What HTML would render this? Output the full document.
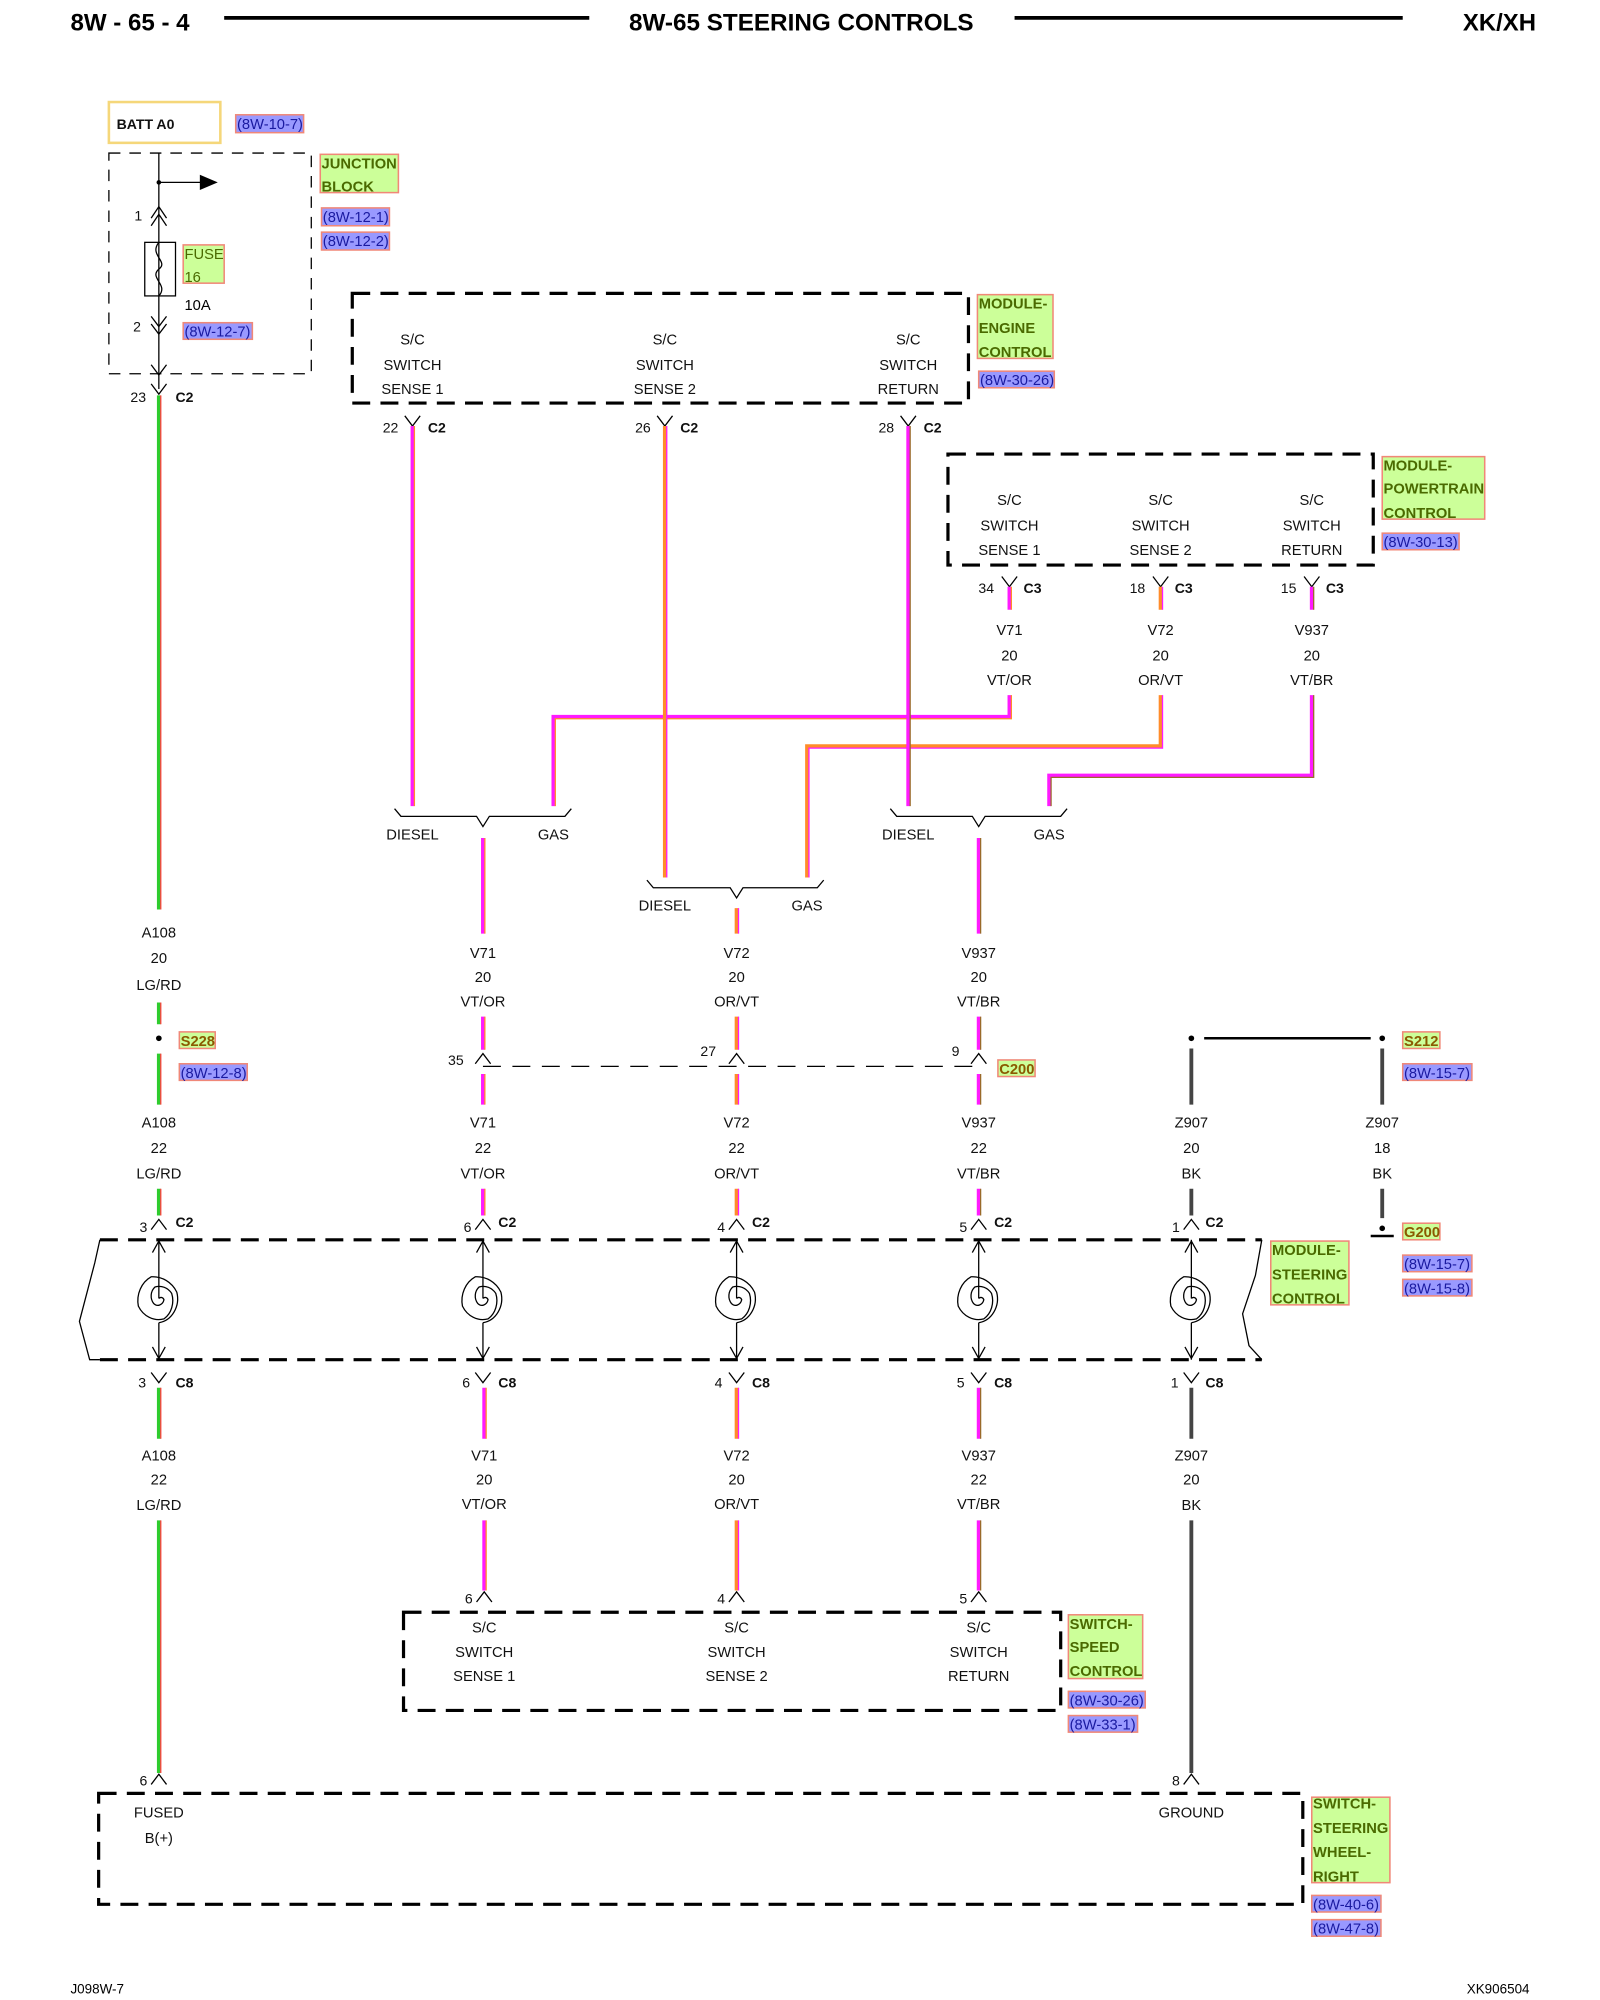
<!DOCTYPE html>
<html><head><meta charset="utf-8"><style>
html,body{margin:0;padding:0;background:#fff;}
svg{display:block;}
text{font-family:"Liberation Sans",sans-serif;}
.t{font-size:11.5px;fill:#111;text-anchor:middle;}
.n{font-size:11px;fill:#111;text-anchor:end;}
.b{font-size:11px;font-weight:bold;fill:#111;}
.lab{font-size:11.5px;font-weight:bold;fill:#4a6a00;}
.ref{font-size:11.5px;fill:#1a1aa0;}
.gb{fill:#ccff99;stroke:#f08878;stroke-width:1.2;}
.rb{fill:#9999ff;stroke:#f08878;stroke-width:1.2;}
.dash{fill:none;stroke:#000;stroke-width:2.5;stroke-dasharray:14,8;}
.thin{fill:none;stroke:#000;stroke-width:1;}
.thd{fill:none;stroke:#000;stroke-width:1;stroke-dasharray:9,7;}
</style></head><body>
<svg width="1600" height="2000" viewBox="0 0 1249 1568" preserveAspectRatio="none" xmlns="http://www.w3.org/2000/svg">
<!-- header -->
<text x="55" y="24" style="font-size:18.5px;font-weight:bold" textLength="93" lengthAdjust="spacingAndGlyphs">8W - 65 - 4</text>
<line x1="175" y1="14" x2="460" y2="14" stroke="#000" stroke-width="3"/>
<text x="491" y="24" style="font-size:18.5px;font-weight:bold" textLength="269" lengthAdjust="spacingAndGlyphs">8W-65 STEERING CONTROLS</text>
<line x1="792" y1="14" x2="1095" y2="14" stroke="#000" stroke-width="3"/>
<text x="1142" y="24" style="font-size:18.5px;font-weight:bold" textLength="57" lengthAdjust="spacingAndGlyphs">XK/XH</text>

<!-- BATT -->
<rect x="85" y="80" width="87" height="32" fill="none" stroke="#f5d77a" stroke-width="2"/>
<text x="91" y="101" class="b">BATT A0</text>
<rect x="184" y="90" width="53" height="14" class="rb"/><text x="185" y="101" class="ref">(8W-10-7)</text>

<!-- junction block -->
<rect x="85" y="120" width="158" height="173" class="thd"/>
<rect x="250" y="121" width="61" height="30" class="gb"/>
<text x="251" y="132" class="lab">JUNCTION</text><text x="251" y="150" class="lab">BLOCK</text>
<rect x="251" y="163" width="53" height="14" class="rb"/><text x="252" y="174" class="ref">(8W-12-1)</text>
<rect x="251" y="182" width="53" height="14" class="rb"/><text x="252" y="193" class="ref">(8W-12-2)</text>
<line x1="124" y1="120" x2="124" y2="305" stroke="#000" stroke-width="1"/>
<circle cx="124" cy="143" r="1.8" fill="#000"/>
<line x1="124" y1="143" x2="158" y2="143" stroke="#000"/>
<polygon points="156,137 170,143 156,149" fill="#000"/>
<polyline points="118,171 124,162 130,171" class="thin"/><polyline points="118,177 124,168 130,177" class="thin"/>
<text x="111" y="173" class="n">1</text>
<rect x="113" y="190" width="24" height="42" class="thin"/>
<path d="M124,190 C116,200 132,205 124,211 C116,218 132,223 124,232" class="thin"/>
<rect x="143" y="192" width="32" height="30" class="gb"/>
<text x="144" y="203" class="lab" style="font-weight:normal">FUSE</text><text x="144" y="221" class="lab" style="font-weight:normal">16</text>
<text x="144" y="243" style="font-size:11.5px">10A</text>
<polyline points="118,248 124,256 130,248" class="thin"/><polyline points="118,254 124,262 130,254" class="thin"/>
<text x="110" y="260" class="n">2</text>
<rect x="143" y="253" width="54" height="13" class="rb"/><text x="144" y="264" class="ref">(8W-12-7)</text>
<polyline points="118,286 124,294 130,286" class="thin"/>
<polyline points="118,301 124,309 130,301" class="thin"/>
<text x="114" y="315" class="n">23</text><text x="137" y="315" class="b">C2</text>

<!-- engine control -->
<rect x="275" y="230" width="481" height="86" class="dash"/>
<text x="322" y="270" class="t">S/C</text><text x="322" y="290" class="t">SWITCH</text><text x="322" y="309" class="t">SENSE 1</text>
<text x="519" y="270" class="t">S/C</text><text x="519" y="290" class="t">SWITCH</text><text x="519" y="309" class="t">SENSE 2</text>
<text x="709" y="270" class="t">S/C</text><text x="709" y="290" class="t">SWITCH</text><text x="709" y="309" class="t">RETURN</text>
<rect x="763" y="231" width="59" height="50" class="gb"/>
<text x="764" y="242" class="lab">MODULE-</text><text x="764" y="261" class="lab">ENGINE</text><text x="764" y="280" class="lab">CONTROL</text>
<rect x="764" y="291" width="59" height="13" class="rb"/><text x="765" y="302" class="ref">(8W-30-26)</text>
<polyline points="316,326 322,334 328,326" class="thin"/><text x="311" y="339" class="n">22</text><text x="334" y="339" class="b">C2</text>
<polyline points="513,326 519,334 525,326" class="thin"/><text x="508" y="339" class="n">26</text><text x="531" y="339" class="b">C2</text>
<polyline points="703,326 709,334 715,326" class="thin"/><text x="698" y="339" class="n">28</text><text x="721" y="339" class="b">C2</text>

<!-- PCM -->
<rect x="740" y="356" width="332" height="87" class="dash"/>
<text x="788" y="396" class="t">S/C</text><text x="788" y="416" class="t">SWITCH</text><text x="788" y="435" class="t">SENSE 1</text>
<text x="906" y="396" class="t">S/C</text><text x="906" y="416" class="t">SWITCH</text><text x="906" y="435" class="t">SENSE 2</text>
<text x="1024" y="396" class="t">S/C</text><text x="1024" y="416" class="t">SWITCH</text><text x="1024" y="435" class="t">RETURN</text>
<rect x="1079" y="358" width="80" height="49" class="gb"/>
<text x="1080" y="369" class="lab">MODULE-</text><text x="1080" y="387" class="lab">POWERTRAIN</text><text x="1080" y="406" class="lab">CONTROL</text>
<rect x="1079" y="418" width="60" height="13" class="rb"/><text x="1080" y="429" class="ref">(8W-30-13)</text>
<polyline points="782,452 788,460 794,452" class="thin"/><text x="776" y="465" class="n">34</text><text x="799" y="465" class="b">C3</text>
<polyline points="900,452 906,460 912,452" class="thin"/><text x="894" y="465" class="n">18</text><text x="917" y="465" class="b">C3</text>
<polyline points="1018,452 1024,460 1030,452" class="thin"/><text x="1012" y="465" class="n">15</text><text x="1035" y="465" class="b">C3</text>
<text x="788" y="498" class="t">V71</text><text x="788" y="518" class="t">20</text><text x="788" y="537" class="t">VT/OR</text>
<text x="906" y="498" class="t">V72</text><text x="906" y="518" class="t">20</text><text x="906" y="537" class="t">OR/VT</text>
<text x="1024" y="498" class="t">V937</text><text x="1024" y="518" class="t">20</text><text x="1024" y="537" class="t">VT/BR</text>

<!-- WIRES -->
<g fill="none" stroke-linejoin="miter">
<g stroke="#2ecc2e" stroke-width="3">
<path d="M124,310V713M124,786V803M124,826V866M124,932V953M124,1088V1128M124,1192V1390"/></g>
<g stroke="#ff4040" stroke-width="1">
<path d="M125.5,310V713M125.5,786V803M125.5,826V866M125.5,932V953M125.5,1088V1128M125.5,1192V1390"/></g>
<g stroke="#ff1aff" stroke-width="3">
<path d="M322,334V632M788,460V478M788,545V562H432V632M377,657V732M377,797V823M377,842V866M377,932V953M378,1088V1128M378,1192V1247"/></g>
<g stroke="#ff8c2a" stroke-width="1">
<path d="M323.5,334V632M789.5,460V478M789.5,545V563.5H433.5V632M378.5,657V732M378.5,797V823M378.5,842V866M378.5,932V953M379.5,1088V1128M379.5,1192V1247"/></g>
<g stroke="#ff8c2a" stroke-width="3">
<path d="M519,334V688M906,460V478M906,545V585H630V688M575,712V732M575,797V823M575,842V866M575,932V953M575,1088V1128M575,1192V1247"/></g>
<g stroke="#ff1aff" stroke-width="1">
<path d="M520.5,334V688M907.5,460V478M907.5,545V586.5H631.5V688M576.5,712V732M576.5,797V823M576.5,842V866M576.5,932V953M576.5,1088V1128M576.5,1192V1247"/></g>
<g stroke="#ff1aff" stroke-width="3">
<path d="M709,334V632M1024,460V478M1024,545V608H819V632M764,657V732M764,797V823M764,842V866M764,932V953M764,1088V1128M764,1192V1247"/></g>
<g stroke="#9a6a2a" stroke-width="1">
<path d="M710.5,334V632M1025.5,460V478M1025.5,545V609.5H820.5V632M765.5,657V732M765.5,797V823M765.5,842V866M765.5,932V953M765.5,1088V1128M765.5,1192V1247"/></g>
<g stroke="#444" stroke-width="3">
<path d="M930,822V866M930,932V953M930,1088V1128M930,1192V1390M1079,822V866M1079,932V955"/></g>
</g>

<!-- diesel/gas brackets -->
<path d="M308,634 L313,640 H372 L377,648 L382,640 H441 L446,634" class="thin"/>
<text x="322" y="658" class="t">DIESEL</text><text x="432" y="658" class="t">GAS</text>
<path d="M505,690 L510,696 H570 L575,704 L580,696 H638 L643,690" class="thin"/>
<text x="519" y="714" class="t">DIESEL</text><text x="630" y="714" class="t">GAS</text>
<path d="M695,634 L700,640 H759 L764,648 L769,640 H828 L833,634" class="thin"/>
<text x="709" y="658" class="t">DIESEL</text><text x="819" y="658" class="t">GAS</text>

<text x="124" y="735" class="t">A108</text><text x="124" y="755" class="t">20</text><text x="124" y="776" class="t">LG/RD</text>
<text x="377" y="751" class="t">V71</text><text x="377" y="770" class="t">20</text><text x="377" y="789" class="t">VT/OR</text>
<text x="575" y="751" class="t">V72</text><text x="575" y="770" class="t">20</text><text x="575" y="789" class="t">OR/VT</text>
<text x="764" y="751" class="t">V937</text><text x="764" y="770" class="t">20</text><text x="764" y="789" class="t">VT/BR</text>

<circle cx="124" cy="814" r="2.2" fill="#000"/>
<rect x="140" y="809" width="28" height="13" class="gb"/><text x="141" y="820" class="lab" style="fill:#8a5a00">S228</text>
<rect x="140" y="834" width="53" height="13" class="rb"/><text x="141" y="845" class="ref">(8W-12-8)</text>

<line x1="377" y1="836" x2="764" y2="836" stroke="#000" stroke-dasharray="14,9"/>
<polyline points="371,834 377,826 383,834" class="thin"/><text x="362" y="835" class="n">35</text>
<polyline points="569,834 575,826 581,834" class="thin"/><text x="559" y="828" class="n">27</text>
<polyline points="758,834 764,826 770,834" class="thin"/><text x="749" y="828" class="n">9</text>
<rect x="779" y="831" width="29" height="13" class="gb"/><text x="780" y="842" class="lab" style="fill:#8a5a00">C200</text>

<circle cx="930" cy="814" r="2.2" fill="#000"/><circle cx="1079" cy="814" r="2.2" fill="#000"/>
<line x1="940" y1="814" x2="1070" y2="814" stroke="#000" stroke-width="2"/>
<rect x="1095" y="809" width="29" height="13" class="gb"/><text x="1096" y="820" class="lab" style="fill:#8a5a00">S212</text>
<rect x="1095" y="834" width="54" height="13" class="rb"/><text x="1096" y="845" class="ref">(8W-15-7)</text>

<text x="124" y="884" class="t">A108</text><text x="124" y="904" class="t">22</text><text x="124" y="924" class="t">LG/RD</text>
<text x="377" y="884" class="t">V71</text><text x="377" y="904" class="t">22</text><text x="377" y="924" class="t">VT/OR</text>
<text x="575" y="884" class="t">V72</text><text x="575" y="904" class="t">22</text><text x="575" y="924" class="t">OR/VT</text>
<text x="764" y="884" class="t">V937</text><text x="764" y="904" class="t">22</text><text x="764" y="924" class="t">VT/BR</text>
<text x="930" y="884" class="t">Z907</text><text x="930" y="904" class="t">20</text><text x="930" y="924" class="t">BK</text>
<text x="1079" y="884" class="t">Z907</text><text x="1079" y="904" class="t">18</text><text x="1079" y="924" class="t">BK</text>

<circle cx="1079" cy="963" r="2.2" fill="#000"/>
<line x1="1070" y1="969" x2="1088" y2="969" stroke="#000" stroke-width="2"/>
<rect x="1095" y="959" width="29" height="13" class="gb"/><text x="1096" y="970" class="lab" style="fill:#8a5a00">G200</text>
<rect x="1095" y="984" width="54" height="13" class="rb"/><text x="1096" y="995" class="ref">(8W-15-7)</text>
<rect x="1095" y="1003" width="54" height="13" class="rb"/><text x="1096" y="1014" class="ref">(8W-15-8)</text>

<polyline points="118,964 124,956 130,964" class="thin"/><text x="115" y="966" class="n">3</text><text x="137" y="962" class="b">C2</text>
<polyline points="371,964 377,956 383,964" class="thin"/><text x="368" y="966" class="n">6</text><text x="389" y="962" class="b">C2</text>
<polyline points="569,964 575,956 581,964" class="thin"/><text x="566" y="966" class="n">4</text><text x="587" y="962" class="b">C2</text>
<polyline points="758,964 764,956 770,964" class="thin"/><text x="755" y="966" class="n">5</text><text x="776" y="962" class="b">C2</text>
<polyline points="924,964 930,956 936,964" class="thin"/><text x="921" y="966" class="n">1</text><text x="941" y="962" class="b">C2</text>

<!-- steering module -->
<path d="M78,972 H985 M78,1066 H985" class="dash"/>
<path d="M78,972 L74,990 L62,1036 L70,1066 H78" class="thin"/>
<path d="M985,972 L980,1000 L970,1030 L975,1055 L985,1066" class="thin"/>
<rect x="992" y="973" width="61" height="50" class="gb"/>
<text x="993" y="984" class="lab">MODULE-</text><text x="993" y="1003" class="lab">STEERING</text><text x="993" y="1022" class="lab">CONTROL</text>

<g fill="none" stroke="#000" stroke-width="1">
<g id="cs">
<line x1="124" y1="972" x2="124" y2="1018"/>
<line x1="124" y1="1037" x2="124" y2="1066"/>
<polyline points="119,982 124,973 129,982"/><polyline points="119,1056 124,1065 129,1056"/>
<path d="M124,1018 a2.5,3 0 0 1 4,1 a5,6 0 0 1 -8,3 a8,9 0 0 1 1,-13 a12,13 0 0 1 13,5 a15,17 0 0 1 -6,20 a18,20 0 0 1 -20,-10 a19,21 0 0 1 10,-23 a21,22 0 0 1 20,12 a17,19 0 0 1 -14,24"/>
</g>
<use href="#cs" x="253"/><use href="#cs" x="451"/><use href="#cs" x="640"/><use href="#cs" x="806"/>
</g>

<polyline points="118,1076 124,1084 130,1076" class="thin"/><text x="114" y="1088" class="n">3</text><text x="137" y="1088" class="b">C8</text>
<polyline points="371,1076 377,1084 383,1076" class="thin"/><text x="367" y="1088" class="n">6</text><text x="389" y="1088" class="b">C8</text>
<polyline points="569,1076 575,1084 581,1076" class="thin"/><text x="564" y="1088" class="n">4</text><text x="587" y="1088" class="b">C8</text>
<polyline points="758,1076 764,1084 770,1076" class="thin"/><text x="753" y="1088" class="n">5</text><text x="776" y="1088" class="b">C8</text>
<polyline points="924,1076 930,1084 936,1076" class="thin"/><text x="920" y="1088" class="n">1</text><text x="941" y="1088" class="b">C8</text>

<text x="124" y="1145" class="t">A108</text><text x="124" y="1164" class="t">22</text><text x="124" y="1184" class="t">LG/RD</text>
<text x="378" y="1145" class="t">V71</text><text x="378" y="1164" class="t">20</text><text x="378" y="1183" class="t">VT/OR</text>
<text x="575" y="1145" class="t">V72</text><text x="575" y="1164" class="t">20</text><text x="575" y="1183" class="t">OR/VT</text>
<text x="764" y="1145" class="t">V937</text><text x="764" y="1164" class="t">22</text><text x="764" y="1183" class="t">VT/BR</text>
<text x="930" y="1145" class="t">Z907</text><text x="930" y="1164" class="t">20</text><text x="930" y="1184" class="t">BK</text>

<polyline points="372,1256 378,1248 384,1256" class="thin"/><text x="369" y="1257" class="n">6</text>
<polyline points="569,1256 575,1248 581,1256" class="thin"/><text x="566" y="1257" class="n">4</text>
<polyline points="758,1256 764,1248 770,1256" class="thin"/><text x="755" y="1257" class="n">5</text>
<rect x="315" y="1264" width="513" height="77" class="dash"/>
<text x="378" y="1280" class="t">S/C</text><text x="378" y="1299" class="t">SWITCH</text><text x="378" y="1318" class="t">SENSE 1</text>
<text x="575" y="1280" class="t">S/C</text><text x="575" y="1299" class="t">SWITCH</text><text x="575" y="1318" class="t">SENSE 2</text>
<text x="764" y="1280" class="t">S/C</text><text x="764" y="1299" class="t">SWITCH</text><text x="764" y="1318" class="t">RETURN</text>
<rect x="834" y="1266" width="58" height="50" class="gb"/>
<text x="835" y="1277" class="lab">SWITCH-</text><text x="835" y="1295" class="lab">SPEED</text><text x="835" y="1314" class="lab">CONTROL</text>
<rect x="834" y="1326" width="60" height="13" class="rb"/><text x="835" y="1337" class="ref">(8W-30-26)</text>
<rect x="834" y="1345" width="54" height="13" class="rb"/><text x="835" y="1356" class="ref">(8W-33-1)</text>

<polyline points="118,1399 124,1391 130,1399" class="thin"/><text x="115" y="1400" class="n">6</text>
<polyline points="924,1399 930,1391 936,1399" class="thin"/><text x="921" y="1400" class="n">8</text>
<rect x="77" y="1406" width="940" height="87" class="dash"/>
<text x="124" y="1425" class="t">FUSED</text><text x="124" y="1445" class="t">B(+)</text>
<text x="930" y="1425" class="t">GROUND</text>
<rect x="1024" y="1409" width="61" height="67" class="gb"/>
<text x="1025" y="1418" class="lab">SWITCH-</text><text x="1025" y="1437" class="lab">STEERING</text><text x="1025" y="1456" class="lab">WHEEL-</text><text x="1025" y="1475" class="lab">RIGHT</text>
<rect x="1024" y="1486" width="54" height="13" class="rb"/><text x="1025" y="1497" class="ref">(8W-40-6)</text>
<rect x="1024" y="1505" width="54" height="13" class="rb"/><text x="1025" y="1516" class="ref">(8W-47-8)</text>

<text x="55" y="1563" style="font-size:10.5px">J098W-7</text>
<text x="1145" y="1563" style="font-size:10.5px">XK906504</text>
</svg>
</body></html>
